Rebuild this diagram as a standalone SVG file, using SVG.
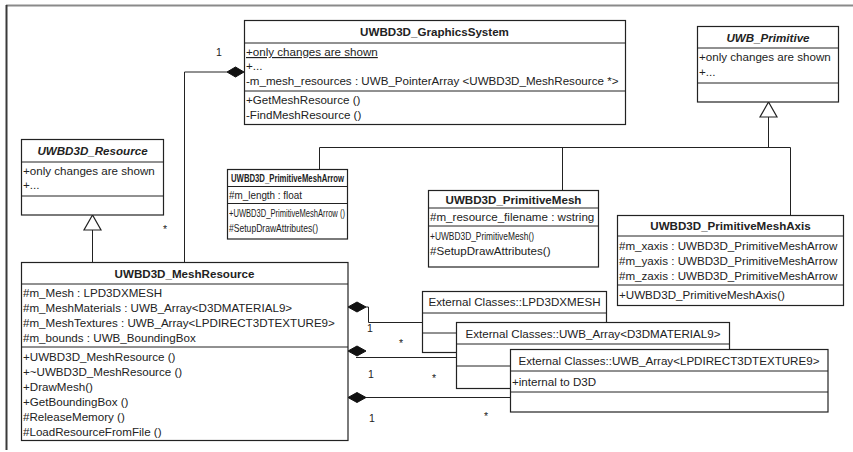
<svg xmlns="http://www.w3.org/2000/svg" width="853" height="452" viewBox="0 0 853 452">
  <style>
    .box { fill: #ffffff; stroke: #222222; stroke-width: 1.2; }
    .sep { stroke: #222222; stroke-width: 1; }
    .edge { fill: none; stroke: #222222; stroke-width: 1; }
    .frame-top { stroke: #8a8a8a; stroke-width: 2; }
    .frame-left { stroke: #3a3a3a; stroke-width: 2; }
    text { font-family: "Liberation Sans", Arial, sans-serif; font-size: 11.6px; fill: #222222; }
    .title { font-weight: bold; text-anchor: middle; }
    .abstract { font-weight: bold; font-style: italic; text-anchor: middle; }
    .ext { text-anchor: middle; }
    .mult { font-size: 10.5px; }
    .diamond { fill: #111111; stroke: #111111; stroke-width: 1; }
    .triangle { fill: #ffffff; stroke: #222222; stroke-width: 1.2; }
  </style>

  <!-- frame -->
  <line class="frame-top" x1="6" y1="5.5" x2="853" y2="5.5"/>
  <line class="frame-left" x1="6.5" y1="5" x2="6.5" y2="450"/>

  <!-- connectors -->
  <g id="connectors">
    <!-- GraphicsSystem owns MeshResource -->
    <polyline class="edge" points="227,72 184.5,72 184.5,262"/>
    <polygon class="diamond" points="227,72 235.5,67 244,72 235.5,77"/>
    <text class="mult" x="216" y="56">1</text>
    <text class="mult" x="163" y="233">*</text>

    <!-- MeshResource generalises Resource -->
    <line class="edge" x1="92.5" y1="230" x2="92.5" y2="262"/>
    <polygon class="triangle" points="92.5,215 84,230 101,230"/>

    <!-- primitives generalise UWB_Primitive -->
    <polyline class="edge" points="768.5,117 768.5,147.5"/>
    <polyline class="edge" points="319.5,169 319.5,147.5 790.5,147.5 790.5,215"/>
    <line class="edge" x1="562.5" y1="147.5" x2="562.5" y2="190"/>
    <polygon class="triangle" points="768.5,102 760,117 777,117"/>

    <!-- MeshResource compositions -->
    <polyline class="edge" points="366,307 368.5,307 368.5,322.5 423,322.5"/>
    <polygon class="diamond" points="348,307 357,302 366,307 357,312"/>
    <text class="mult" x="367" y="332">1</text>
    <text class="mult" x="399" y="347">*</text>

    <line class="edge" x1="356" y1="357.5" x2="457" y2="357.5"/>
    <polygon class="diamond" points="348,351 357,346 366,351 357,356"/>
    <text class="mult" x="368" y="378">1</text>
    <text class="mult" x="432" y="382">*</text>

    <line class="edge" x1="366" y1="397.5" x2="510" y2="397.5"/>
    <polygon class="diamond" points="348,397.5 357,392.5 366,397.5 357,402.5"/>
    <text class="mult" x="369" y="422">1</text>
    <text class="mult" x="484" y="420">*</text>
  </g>

  <!-- UWBD3D_GraphicsSystem -->
  <g id="graphics-system">
    <rect class="box" x="244.5" y="20.5" width="381" height="104"/>
    <line class="sep" x1="244.5" y1="43" x2="625.5" y2="43"/>
    <line class="sep" x1="244.5" y1="91" x2="625.5" y2="91"/>
    <text class="title" x="434.5" y="36">UWBD3D_GraphicsSystem</text>
    <text x="246" y="56" text-decoration="underline">+only changes are shown</text>
    <text x="246" y="70">+...</text>
    <text x="246" y="85">-m_mesh_resources : UWB_PointerArray &lt;UWBD3D_MeshResource *&gt;</text>
    <text x="246" y="104">+GetMeshResource ()</text>
    <text x="246" y="119">-FindMeshResource ()</text>
  </g>

  <!-- UWB_Primitive -->
  <g id="uwb-primitive">
    <rect class="box" x="697.5" y="26.5" width="141" height="75.5"/>
    <line class="sep" x1="697.5" y1="48" x2="838.5" y2="48"/>
    <line class="sep" x1="697.5" y1="83" x2="838.5" y2="83"/>
    <text class="abstract" x="768" y="42">UWB_Primitive</text>
    <text x="699" y="61">+only changes are shown</text>
    <text x="699" y="76">+...</text>
  </g>

  <!-- UWBD3D_Resource -->
  <g id="resource">
    <rect class="box" x="21.5" y="139.5" width="142" height="75.5"/>
    <line class="sep" x1="21.5" y1="162" x2="163.5" y2="162"/>
    <line class="sep" x1="21.5" y1="196" x2="163.5" y2="196"/>
    <text class="abstract" x="92.5" y="155">UWBD3D_Resource</text>
    <text x="23" y="175">+only changes are shown</text>
    <text x="23" y="189">+...</text>
  </g>

  <!-- UWBD3D_PrimitiveMeshArrow (narrow box, condensed lettering) -->
  <g id="primitive-mesh-arrow">
    <rect class="box" x="227.5" y="169.5" width="120" height="69.5"/>
    <line class="sep" x1="227.5" y1="186.5" x2="347.5" y2="186.5"/>
    <line class="sep" x1="227.5" y1="203.5" x2="347.5" y2="203.5"/>
    <text class="title" x="287.5" y="182" textLength="113" lengthAdjust="spacingAndGlyphs">UWBD3D_PrimitiveMeshArrow</text>
    <text x="229" y="199" textLength="73" lengthAdjust="spacingAndGlyphs">#m_length : float</text>
    <text x="229" y="217" textLength="116" lengthAdjust="spacingAndGlyphs">+UWBD3D_PrimitiveMeshArrow ()</text>
    <text x="229" y="232" textLength="89" lengthAdjust="spacingAndGlyphs">#SetupDrawAttributes()</text>
  </g>

  <!-- UWBD3D_PrimitiveMesh -->
  <g id="primitive-mesh">
    <rect class="box" x="428.5" y="190.5" width="170" height="76.5"/>
    <line class="sep" x1="428.5" y1="208" x2="598.5" y2="208"/>
    <line class="sep" x1="428.5" y1="226" x2="598.5" y2="226"/>
    <text class="title" x="513.5" y="204">UWBD3D_PrimitiveMesh</text>
    <text x="430" y="221">#m_resource_filename : wstring</text>
    <text x="430" y="240" textLength="104" lengthAdjust="spacingAndGlyphs">+UWBD3D_PrimitiveMesh()</text>
    <text x="430" y="255">#SetupDrawAttributes()</text>
  </g>

  <!-- UWBD3D_PrimitiveMeshAxis -->
  <g id="primitive-mesh-axis">
    <rect class="box" x="617.5" y="215.5" width="226" height="90"/>
    <line class="sep" x1="617.5" y1="236" x2="843.5" y2="236"/>
    <line class="sep" x1="617.5" y1="285" x2="843.5" y2="285"/>
    <text class="title" x="730.5" y="230">UWBD3D_PrimitiveMeshAxis</text>
    <text x="619" y="250">#m_xaxis : UWBD3D_PrimitiveMeshArrow</text>
    <text x="619" y="265">#m_yaxis : UWBD3D_PrimitiveMeshArrow</text>
    <text x="619" y="280">#m_zaxis : UWBD3D_PrimitiveMeshArrow</text>
    <text x="619" y="299">+UWBD3D_PrimitiveMeshAxis()</text>
  </g>

  <!-- UWBD3D_MeshResource -->
  <g id="mesh-resource">
    <rect class="box" x="21.5" y="262.5" width="326.5" height="178"/>
    <line class="sep" x1="21.5" y1="284" x2="348" y2="284"/>
    <line class="sep" x1="21.5" y1="347" x2="348" y2="347"/>
    <text class="title" x="184.5" y="278">UWBD3D_MeshResource</text>
    <text x="23" y="297">#m_Mesh : LPD3DXMESH</text>
    <text x="23" y="312">#m_MeshMaterials : UWB_Array&lt;D3DMATERIAL9&gt;</text>
    <text x="23" y="327">#m_MeshTextures : UWB_Array&lt;LPDIRECT3DTEXTURE9&gt;</text>
    <text x="23" y="342">#m_bounds : UWB_BoundingBox</text>
    <text x="23" y="361">+UWBD3D_MeshResource ()</text>
    <text x="23" y="376">+~UWBD3D_MeshResource ()</text>
    <text x="23" y="391">+DrawMesh()</text>
    <text x="23" y="406">+GetBoundingBox ()</text>
    <text x="23" y="421">#ReleaseMemory ()</text>
    <text x="23" y="436">#LoadResourceFromFile ()</text>
  </g>

  <!-- External Classes::LPD3DXMESH -->
  <g id="ext-lpd3dxmesh">
    <rect class="box" x="422.5" y="291.5" width="184" height="61"/>
    <line class="sep" x1="422.5" y1="313" x2="606.5" y2="313"/>
    <line class="sep" x1="422.5" y1="333" x2="606.5" y2="333"/>
    <text class="ext" x="514.5" y="306">External Classes::LPD3DXMESH</text>
  </g>

  <!-- External Classes::UWB_Array<D3DMATERIAL9> -->
  <g id="ext-d3dmaterial9">
    <rect class="box" x="456.5" y="322.5" width="273" height="66"/>
    <line class="sep" x1="456.5" y1="344" x2="729.5" y2="344"/>
    <line class="sep" x1="456.5" y1="366" x2="729.5" y2="366"/>
    <text class="ext" x="593" y="338">External Classes::UWB_Array&lt;D3DMATERIAL9&gt;</text>
  </g>

  <!-- External Classes::UWB_Array<LPDIRECT3DTEXTURE9> -->
  <g id="ext-lpdirect3dtexture9">
    <rect class="box" x="510.5" y="349.5" width="317.5" height="62.5"/>
    <line class="sep" x1="510.5" y1="371" x2="828" y2="371"/>
    <line class="sep" x1="510.5" y1="392" x2="828" y2="392"/>
    <text class="ext" x="669" y="365">External Classes::UWB_Array&lt;LPDIRECT3DTEXTURE9&gt;</text>
    <text x="512" y="386">+internal to D3D</text>
  </g>
</svg>
